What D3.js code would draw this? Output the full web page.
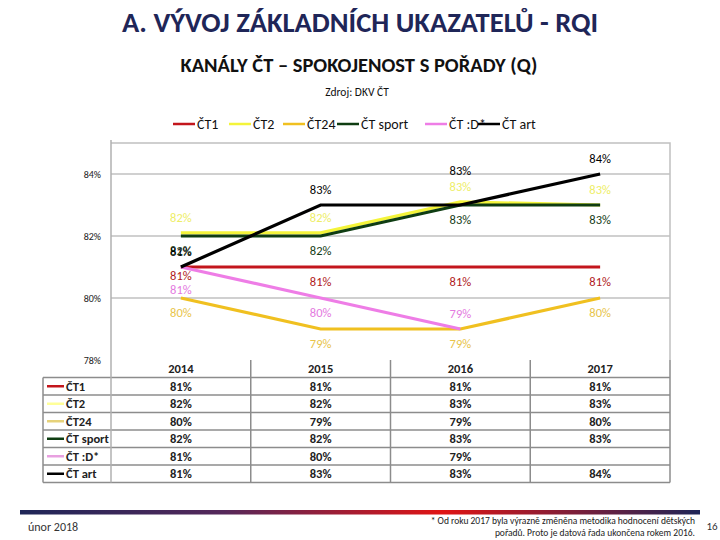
<!DOCTYPE html>
<html>
<head>
<meta charset="utf-8">
<script src="https://cdn.jsdelivr.net/npm/d3@7"></script>
<style>
  body { margin: 0; background: #fff; }
  svg text { font-family: Carlito, Calibri, Lato, "Open Sans", sans-serif; }
</style>
</head>
<body>
<svg id="chart" width="720" height="540"></svg>
<script>
// data
const years = ['2014', '2015', '2016', '2017']
const seriesNames = ['ČT1', 'ČT2', 'ČT24', 'ČT sport', 'ČT :D*', 'ČT art']
const ct1 = [81, 81, 81, 81]
const ct2 = [82.1, 82.1, 83.1, 83]
const ct24 = [80, 79, 79, 80]
const ctSport = [82, 82, 83, 83]
const ctD = [81, 80, 79, null]
const ctArt = [81, 83, 83, 84]
const yTicks = [78, 80, 82, 84]

const colors = ['#c3161c', '#f4f43a', '#f0c020', '#0f3d12', '#ee7de6', '#000000']
const labelColors = ['#b01a22', '#eeee66', '#e8c44a', '#143c16', '#e47ae0', '#000000']
const keyColors = ['#c3161c', '#ffff99', '#e6d27a', '#0f3d12', '#e8a0e0', '#000000']
const labelsAbove = ['ČT2', 'ČT art']

const values = [ct1, ct2, ct24, ctSport, ctD, ctArt]
const series = seriesNames.map((name, i) => ({ name, color: colors[i], labelColor: labelColors[i], values: values[i] }))

const svg = d3.select('#chart')
const plot = { left: 111, right: 670, top: 143, bottom: 360 }
const rowH = 17.5

const x = d3.scaleBand().domain(years).range([plot.left, plot.right])
const y = d3.scaleLinear().domain([78, 85]).range([plot.bottom, plot.top])
const cx = d => x(d) + x.bandwidth() / 2

// titles
svg.append('text').attr('x', 360).attr('y', 32).attr('text-anchor', 'middle')
    .style('font-size', '28.5px').style('font-weight', 'bold').style('fill', '#1f2658')
    .text('A. VÝVOJ ZÁKLADNÍCH UKAZATELŮ - RQI')
svg.append('text').attr('x', 359).attr('y', 72).attr('text-anchor', 'middle')
    .style('font-size', '20.5px').style('font-weight', 'bold').style('fill', '#111')
    .text('KANÁLY ČT – SPOKOJENOST S POŘADY (Q)')
svg.append('text').attr('x', 357).attr('y', 96).attr('text-anchor', 'middle')
    .style('font-size', '11.5px').style('fill', '#111')
    .text('Zdroj: DKV ČT')

// top legend
const legendX = [173, 229, 283, 337, 425, 478]
const legend = svg.append('g')
series.forEach((s, i) => {
    legend.append('line').attr('x1', legendX[i]).attr('x2', legendX[i] + 22)
        .attr('y1', 124).attr('y2', 124).attr('stroke', s.color).attr('stroke-width', 2.5)
    legend.append('text').attr('x', legendX[i] + 24).attr('y', 129)
        .style('font-size', '14px').style('fill', '#111').text(s.name)
})

// grid + plot frame
svg.append('g').selectAll('line.grid')
    .data(yTicks.filter(t => t > 78))
    .join('line')
    .attr('x1', plot.left).attr('x2', plot.right)
    .attr('y1', d => y(d)).attr('y2', d => y(d))
    .attr('stroke', '#c0c0c0').attr('stroke-width', 1.5)
svg.append('path')
    .attr('d', `M${plot.left},${plot.top}H${plot.right}V${plot.bottom}`)
    .attr('fill', 'none').attr('stroke', '#c0c0c0').attr('stroke-width', 1.5)

const yAxis = svg.append('g')
    .attr('transform', `translate(${plot.left},0)`)
    .call(d3.axisLeft(y).tickValues(yTicks).tickSize(0).tickPadding(10).tickFormat(d => d + '%'))
yAxis.select('.domain').remove()
yAxis.selectAll('text').style('font-size', '10px').style('fill', '#222')
    .style('font-family', 'Carlito, Calibri, Lato, sans-serif')

// lines
const line = d3.line()
    .defined(d => d.v != null)
    .x(d => cx(d.year))
    .y(d => y(d.v))

svg.append('g').selectAll('path.series')
    .data(series)
    .join('path')
    .attr('fill', 'none')
    .attr('stroke', d => d.color)
    .attr('stroke-width', 3.2)
    .attr('d', d => line(d.values.map((v, i) => ({ year: years[i], v }))))

// data labels
const placed = []
const labelG = svg.append('g')
series.forEach(s => {
    s.values.forEach((v, i) => {
        if (v == null) return
        const lastOfSeries = s.values[i + 1] === null
        const above = labelsAbove.includes(s.name) || lastOfSeries
        let ly = above ? y(v) - 11 : y(v) + 19
        // nudge away when an earlier label sits in the same spot
        const clash = yy => placed.find(p => p.i === i && p.above === above && Math.abs(p.y - yy) < 12)
        let hit = clash(ly)
        while (hit) {
            if (above) {
                ly = hit.y - 16
            } else {
                hit.y -= 6
                hit.node.attr('y', hit.y)
                ly = hit.y + 14
            }
            hit = clash(ly)
        }
        const node = labelG.append('text')
            .attr('x', cx(years[i])).attr('y', ly)
            .attr('text-anchor', 'middle')
            .style('font-size', '12.5px').style('fill', s.labelColor)
            .text(Math.round(v) + '%')
        placed.push({ i, y: ly, above, node })
    })
})

// data table
const table = svg.append('g')
const tableBottom = plot.bottom + rowH * (series.length + 1)
const gridStroke = '#8c8c8c'

years.forEach(yr => {
    table.append('text').attr('x', cx(yr)).attr('y', plot.bottom + 13)
        .attr('text-anchor', 'middle').style('font-size', '12.5px').style('font-weight', 'bold')
        .style('fill', '#222').text(yr)
})
series.forEach((s, r) => {
    const rowY = plot.bottom + rowH * (r + 1)
    table.append('line').attr('x1', 43).attr('x2', plot.right)
        .attr('y1', rowY).attr('y2', rowY).attr('stroke', gridStroke).attr('stroke-width', 1.5)
    table.append('line').attr('x1', 47).attr('x2', 64)
        .attr('y1', rowY + rowH / 2).attr('y2', rowY + rowH / 2)
        .attr('stroke', keyColors[r]).attr('stroke-width', 2.5)
    table.append('text').attr('x', 66).attr('y', rowY + 13)
        .style('font-size', '12.5px').style('font-weight', 'bold').style('fill', '#222').text(s.name)
    s.values.forEach((v, i) => {
        if (v == null) return
        table.append('text').attr('x', cx(years[i])).attr('y', rowY + 13)
            .attr('text-anchor', 'middle').style('font-size', '12.5px').style('font-weight', 'bold')
            .style('fill', '#222').text(Math.round(v) + '%')
    })
})
table.append('line').attr('x1', 43).attr('x2', plot.right)
    .attr('y1', tableBottom).attr('y2', tableBottom).attr('stroke', gridStroke).attr('stroke-width', 1.5)
table.append('line').attr('x1', 43).attr('x2', 43)
    .attr('y1', plot.bottom + rowH).attr('y2', tableBottom).attr('stroke', gridStroke).attr('stroke-width', 1.5)
years.forEach(yr => {
    table.append('line').attr('x1', x(yr) + x.bandwidth()).attr('x2', x(yr) + x.bandwidth())
        .attr('y1', plot.bottom).attr('y2', tableBottom).attr('stroke', gridStroke).attr('stroke-width', 1.5)
})
table.append('line').attr('x1', plot.left).attr('x2', plot.left)
    .attr('y1', plot.top - 3).attr('y2', tableBottom).attr('stroke', '#b0b0b0').attr('stroke-width', 1.5)

// footer
const grad = svg.append('defs').append('linearGradient').attr('id', 'bar')
const stops = [[0, '#1f2658'], [0.3, '#55285a'], [0.62, '#e01414'], [0.85, '#6a2040'], [1, '#1f2658']]
stops.forEach(([o, c]) => grad.append('stop').attr('offset', o).attr('stop-color', c))
svg.append('rect').attr('x', 20).attr('y', 510).attr('width', 680).attr('height', 4.5)
    .attr('fill', 'url(#bar)')
svg.append('text').attr('x', 28).attr('y', 531).style('font-size', '12px').style('fill', '#333')
    .text('únor 2018')
svg.append('text').attr('x', 695).attr('y', 524).attr('text-anchor', 'end')
    .style('font-size', '9.5px').style('fill', '#222')
    .text('* Od roku 2017 byla výrazně změněna metodika hodnocení dětských')
svg.append('text').attr('x', 695).attr('y', 536).attr('text-anchor', 'end')
    .style('font-size', '9.5px').style('fill', '#222')
    .text('pořadů. Proto je datová řada ukončena rokem 2016.')
svg.append('text').attr('x', 712).attr('y', 530).attr('text-anchor', 'middle')
    .style('font-size', '11px').style('fill', '#333').text('16')
</script>
</body>
</html>
